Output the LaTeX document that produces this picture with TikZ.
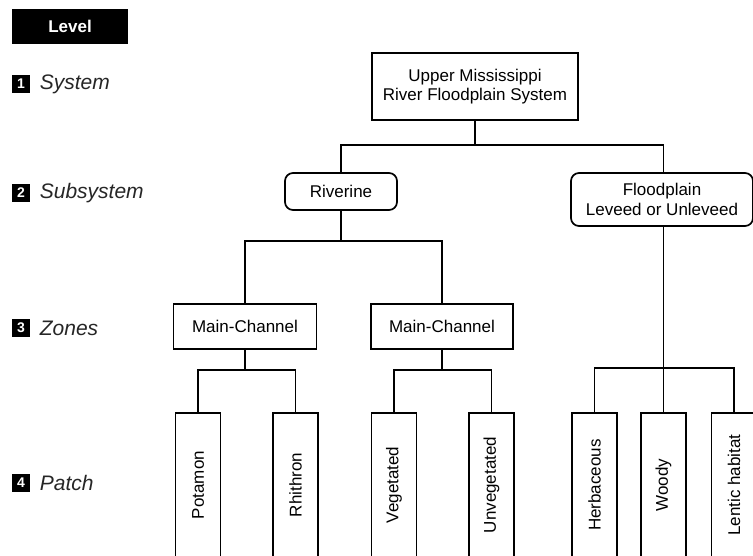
\documentclass[tikz,border=0pt]{standalone}
\usepackage{fontspec}
\setmainfont{Liberation Sans}
\begin{document}
\begin{tikzpicture}[x=1pt,y=-1pt,
  line width=1.7pt,
  box/.style={draw, rectangle, inner sep=0pt, align=center, font=\fontsize{17}{19}\selectfont},
  rbox/.style={box, rounded corners=8pt},
  patchbox/.style={draw, rectangle, inner sep=0pt, minimum width=45pt, minimum height=144pt},
  patchtext/.style={rotate=90, inner sep=0pt, font=\fontsize{17}{19}\selectfont},
  numsq/.style={fill=black, text=white, minimum width=18pt, minimum height=18pt, inner sep=0pt, font=\fontsize{14}{14}\selectfont\bfseries},
  lvl/.style={anchor=west, inner sep=0pt, font=\fontsize{21}{21}\selectfont\itshape, text=black!85}
]
\path[use as bounding box, clip] (0,0) rectangle (753,555);

% Level header
\node[fill=black, text=white, minimum width=116pt, minimum height=35pt, inner sep=0pt,
      font=\fontsize{17}{17}\selectfont\bfseries] (level) at (70,26.5) {Level};

\node[numsq] (n1) at (21,84) {1};
\node[lvl] (l1) at (39,84) {System};
\node[numsq] (n2) at (21,193) {2};
\node[lvl] (l2) at (39,193) {Subsystem};
\node[numsq] (n3) at (21,328) {3};
\node[lvl] (l3) at (39,328) {Zones};
\node[numsq] (n4) at (21,483) {4};
\node[lvl] (l4) at (39,483) {Patch};

% Nodes
\node[box, minimum width=206pt, minimum height=67pt] (sys) at (475,86.5)
  {Upper Mississippi\\River Floodplain System};
\node[rbox, minimum width=112pt, minimum height=37pt] (riv) at (341,191.5) {Riverine};
\node[rbox, minimum width=182pt, minimum height=53pt, font=\fontsize{17}{20}\selectfont] (fld) at (662,199.5)
  {Floodplain\\Leveed or Unleveed};
\node[box, minimum width=143pt, minimum height=45pt] (mc1) at (245,326.5) {Main-Channel};
\node[box, minimum width=142pt, minimum height=45pt] (mc2) at (442,326.5) {Main-Channel};

\node[patchbox] (pot) at (198,485) {};
\node[patchtext] at (pot.center) {Potamon};
\node[patchbox] (rhi) at (295.5,485) {};
\node[patchtext] at (rhi.center) {Rhithron};
\node[patchbox] (veg) at (394,485) {};
\node[patchtext] at (veg.center) {Vegetated};
\node[patchbox] (unv) at (491.5,485) {};
\node[patchtext] at (unv.center) {Unvegetated};
\node[patchbox] (her) at (594.5,485) {};
\node[patchtext] at (her.center) {Herbaceous};
\node[patchbox] (woo) at (663.5,485) {};
\node[patchtext] at (woo.center) {Woody};
\node[patchbox] (len) at (734,485) {};
\node[patchtext] at (len.center) {Lentic habitat};

% Connectors
\coordinate (b1) at (475,145);
\draw (sys.south) -- (b1);
\draw (riv.north) |- (b1) -| (woo.north |- fld.north);

\coordinate (b2) at (341,241);
\draw (riv.south) -- (b2);
\draw (mc1.north) |- (b2) -| (mc2.north);

\coordinate (b3) at (245,370);
\draw (mc1.south) -- (b3);
\draw (pot.north) |- (b3) -| (rhi.north);

\coordinate (b4) at (442,370);
\draw (mc2.south) -- (b4);
\draw (veg.north) |- (b4) -| (unv.north);

\coordinate (b5) at (663.5,368);
\draw (woo.north |- fld.south) -- (woo.north);
\draw (her.north) |- (b5) -| (len.north);
\end{tikzpicture}
\end{document}
